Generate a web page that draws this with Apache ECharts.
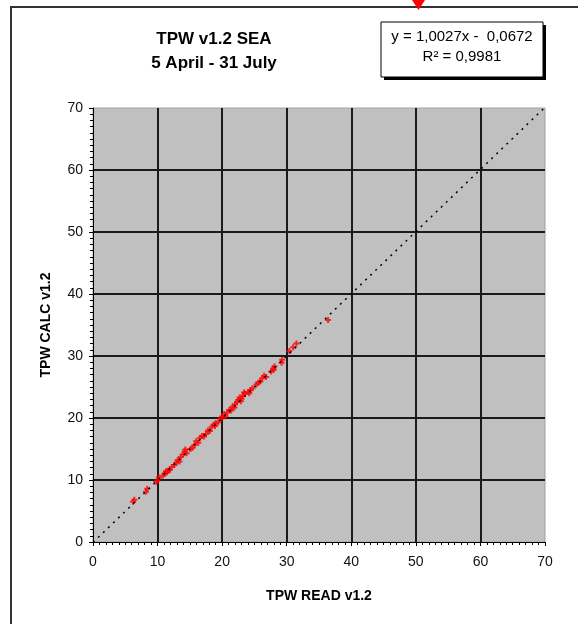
<!DOCTYPE html>
<html>
<head>
<meta charset="utf-8">
<script src="https://cdn.jsdelivr.net/npm/echarts@6/dist/echarts.min.js"></script>
<style>
  html, body { margin: 0; padding: 0; background: #fff; }
  #chart { width: 578px; height: 624px; }
</style>
</head>
<body>
<div id="chart"></div>
<script>
// TPW READ (x) vs TPW CALC (y)
var tpwPoints = [
  [6.2, 6.5], [6.4, 6.8], [8.2, 8.1], [8.4, 8.6], [9.8, 9.7], [10.0, 9.9], [10.2, 10.4],
  [10.8, 10.7], [11.1, 11.0], [11.4, 11.2], [11.6, 11.5], [11.9, 11.6], [12.2, 12.1],
  [12.6, 12.4], [13.1, 13.2], [13.4, 13.0], [13.6, 13.7], [13.9, 14.1], [14.2, 14.6],
  [14.5, 14.3], [14.3, 14.9], [15.4, 15.2], [15.7, 15.6], [16.0, 16.3], [16.3, 16.0],
  [16.6, 16.8], [16.9, 17.1], [17.5, 17.4], [17.8, 18.0], [18.1, 17.9], [18.4, 18.6],
  [18.7, 18.9], [19.0, 19.2], [19.4, 19.3], [19.8, 19.9], [20.0, 20.2], [20.3, 20.6],
  [20.5, 20.3], [20.8, 20.9], [21.1, 21.3], [21.4, 21.2], [21.6, 21.8], [22.0, 22.2],
  [22.3, 22.6], [22.5, 22.9], [22.7, 23.3], [23.0, 23.1], [23.2, 23.6], [23.5, 23.9],
  [23.4, 24.1], [24.0, 24.2], [24.4, 24.5], [24.7, 24.8], [25.3, 25.4], [25.9, 25.9],
  [26.2, 26.4], [26.5, 26.8], [26.8, 26.6], [27.6, 27.5], [27.9, 28.0], [28.1, 28.3],
  [29.2, 28.9], [29.3, 29.4], [30.4, 30.8], [31.0, 31.4], [31.5, 32.0], [36.4, 35.8],
  [11.3, 11.4], [12.9, 12.8], [15.1, 15.0], [17.2, 17.0], [21.9, 21.7], [22.9, 22.7],
  [24.2, 24.0], [25.6, 25.7], [28.0, 27.8], [18.9, 18.7]
];
// linear trend line end points (y = 1,0027x - 0,0672)
var trendLine = [[0, -0.07], [70, 70.12]];
var axisTicks = [0, 10, 20, 30, 40, 50, 60, 70];

var chart = echarts.init(document.getElementById('chart'));

var font = "'Liberation Sans', Arial, sans-serif";

function valueAxis(name, pos) {
  return {
    type: 'value',
    min: axisTicks[0],
    max: axisTicks[axisTicks.length - 1],
    interval: 10,
    name: name,
    nameLocation: 'middle',
    nameGap: pos === 'x' ? 47 : 40,
    nameTextStyle: { fontFamily: font, fontWeight: 'bold', fontSize: 14, color: '#000' },
    axisLine: { show: true, onZero: false, lineStyle: { color: '#000', width: 1 } },
    axisTick: { show: true, inside: false, length: 4, lineStyle: { color: '#000' } },
    minorTick: { show: true, splitNumber: 10, length: 3, lineStyle: { color: '#000' } },
    axisLabel: { fontFamily: font, fontSize: 14, color: '#111', margin: pos === 'x' ? 13 : 10 },
    splitLine: {
      show: true,
      showMinLine: false,
      showMaxLine: false,
      lineStyle: { color: '#1a1a1a', width: 2 }
    }
  };
}

var option = {
  backgroundColor: '#fff',
  animation: false,
  title: {
    text: 'TPW v1.2 SEA\n5 April - 31 July',
    left: 209,
    top: 22,
    textAlign: 'center',
    textStyle: { fontFamily: font, fontWeight: 'bold', fontSize: 17, lineHeight: 24, color: '#000' }
  },
  grid: {
    left: 93,
    right: 33,
    top: 108,
    bottom: 82,
    show: true,
    backgroundColor: '#c0c0c0',
    borderColor: '#a0a0a0',
    borderWidth: 1
  },
  xAxis: valueAxis('TPW READ v1.2', 'x'),
  yAxis: valueAxis('TPW CALC v1.2', 'y'),
  series: [
    {
      type: 'scatter',
      data: tpwPoints,
      symbol: 'path://M2,0H4V2H6V4H4V6H2V4H0V2H2Z',
      symbolSize: 6,
      itemStyle: { color: '#ff0000' },
      z: 3
    },
    {
      type: 'line',
      data: trendLine,
      showSymbol: false,
      symbol: 'none',
      lineStyle: { color: '#000', width: 1.5, type: [2, 5] },
      z: 4
    }
  ],
  graphic: [
    {
      type: 'polyline',
      shape: { points: [[11, 624], [11, 7], [578, 7]] },
      style: { stroke: '#333', lineWidth: 2, fill: null }
    },
    {
      type: 'polygon',
      shape: { points: [[412, 0], [425, 0], [418.5, 10]] },
      style: { fill: '#ff0000' }
    },
    {
      type: 'rect',
      shape: { x: 384, y: 25, width: 162, height: 55 },
      style: { fill: '#000' }
    },
    {
      type: 'rect',
      shape: { x: 381, y: 22, width: 162, height: 55 },
      style: { fill: '#fff', stroke: '#000', lineWidth: 1 }
    },
    {
      type: 'text',
      x: 462, y: 37,
      style: { text: 'y = 1,0027x -  0,0672', fontFamily: font, fontSize: 15, fill: '#000', align: 'center', verticalAlign: 'middle' }
    },
    {
      type: 'text',
      x: 462, y: 57,
      style: { text: 'R² = 0,9981', fontFamily: font, fontSize: 15, fill: '#000', align: 'center', verticalAlign: 'middle' }
    }
  ]
};

chart.setOption(option);
</script>
</body>
</html>
